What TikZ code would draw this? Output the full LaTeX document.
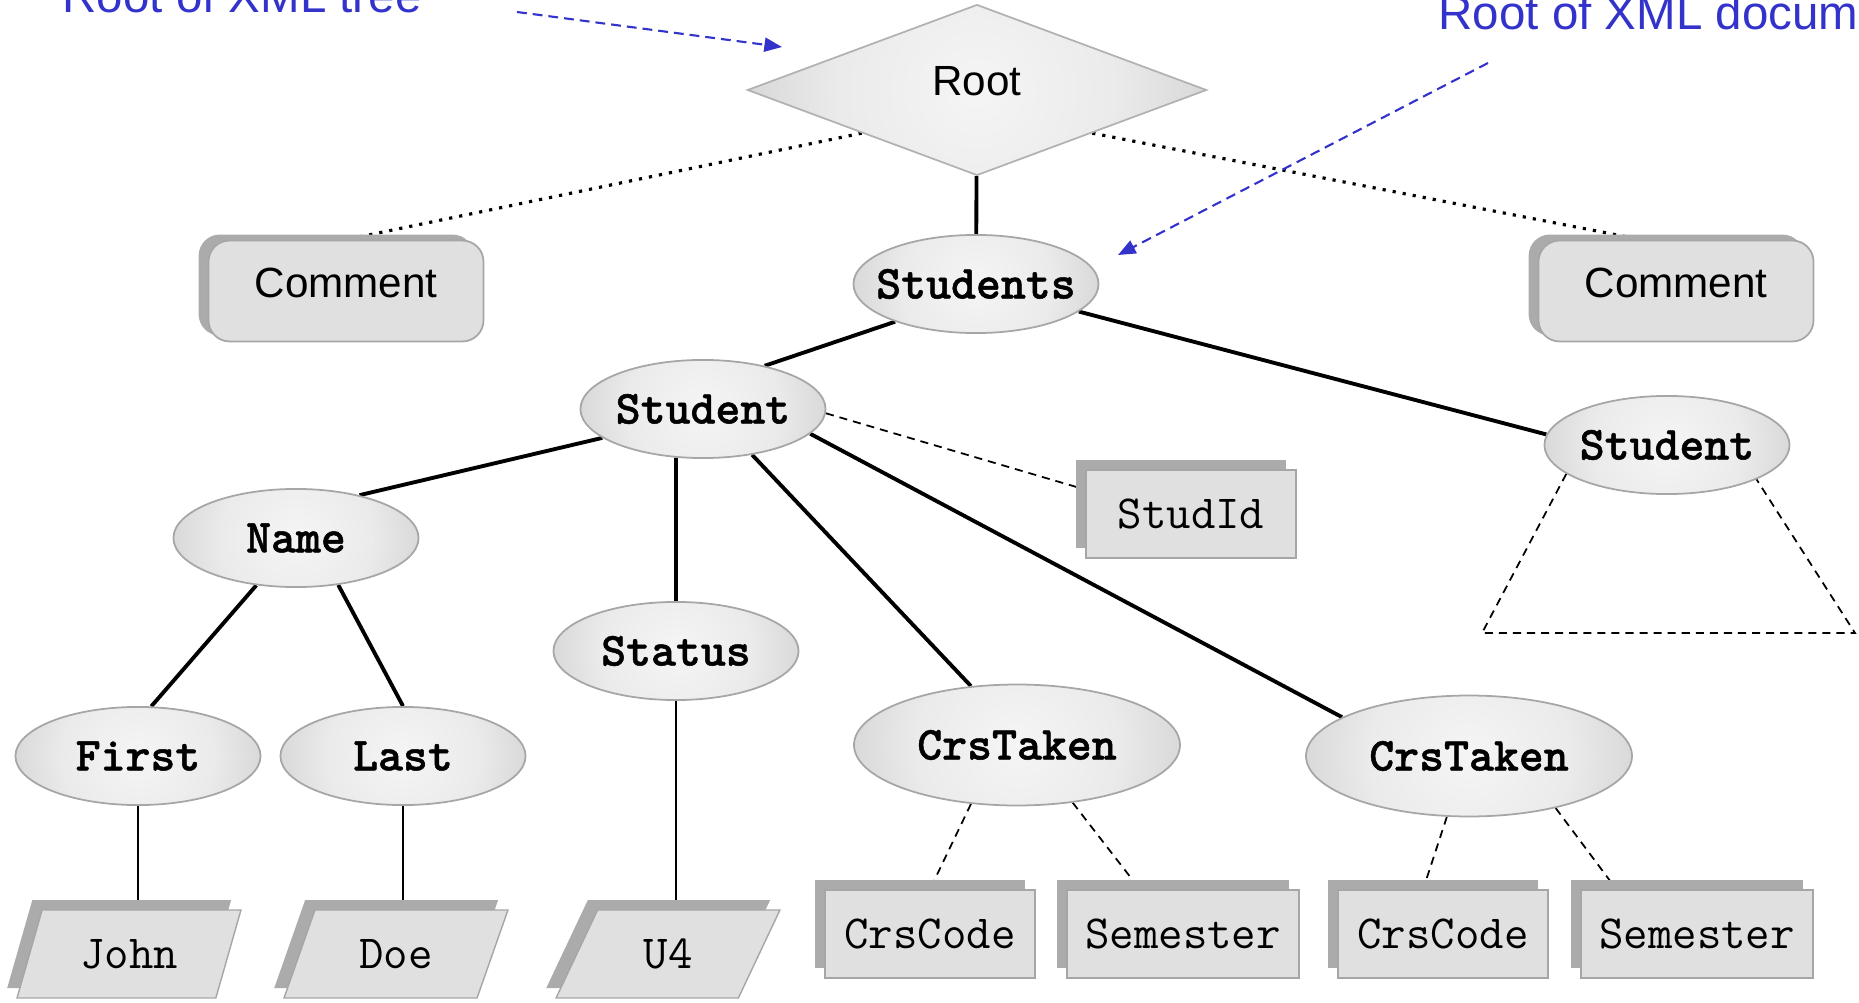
\documentclass[tikz,border=0pt]{standalone}
\usepackage{fontspec}
\newfontfamily\helvfont{Liberation Sans}
\newfontfamily\ttboldfont{lmmonolt10-bold.otf}[FakeBold=1]
\usetikzlibrary{shapes.geometric, arrows.meta, backgrounds, shadows}

\definecolor{noteblue}{RGB}{51,51,204}
\pgfdeclareradialshading{ovalshade}{\pgfpoint{0bp}{0bp}}{%
  color(0bp)=(black!4); color(15bp)=(black!8); color(50bp)=(black!34)}

\tikzset{
  elem/.style={ellipse, draw=black!35, line width=0.5pt, inner sep=0pt, inner xsep=-8pt,
    minimum width=69.7pt, minimum height=27.9pt,
    font=\fontsize{13.5}{16}\selectfont\ttboldfont,
    path picture={\shade[shading=ovalshade] (path picture bounding box.center) circle (36pt);}},
  crselem/.style={elem, minimum width=92.7pt, minimum height=34.4pt,
    path picture={\shade[shading=ovalshade] (path picture bounding box.center) circle (48pt);}},
  boxshadow/.style={
    general shadow={shadow xshift=-2.8pt, shadow yshift=2.8pt, fill=black!33, draw=none}},
  attr/.style={rectangle, draw=black!35, fill=black!12, line width=0.4pt,
    inner sep=0pt, inner xsep=5.2pt, minimum width=59.7pt, minimum height=25pt,
    font=\fontsize{13.5}{16}\selectfont\ttfamily, boxshadow},
  value/.style={trapezium, trapezium left angle=64.5, trapezium right angle=115.5,
    trapezium stretches=true, draw=black!35, fill=black!12, line width=0.4pt,
    inner sep=0pt, minimum width=63.7pt, minimum height=25pt,
    font=\fontsize{13.5}{16}\selectfont\ttfamily, boxshadow},
  note/.style={rectangle, rounded corners=6pt, draw=black!35, fill=black!12,
    line width=0.5pt, minimum width=78.2pt, minimum height=28.7pt, text depth=4.8pt,
    font=\fontsize{12}{14}\selectfont\helvfont,
    general shadow={shadow xshift=-2.8pt, shadow yshift=1.7pt, fill=black!33, draw=none}},
  rootshape/.style={diamond, draw=black!30, line width=0.5pt, inner sep=0pt,
    minimum width=130.6pt, minimum height=48.6pt, text depth=5.4pt,
    font=\fontsize{12}{14}\selectfont\helvfont,
    path picture={\shade[shading=ovalshade] (path picture bounding box.center) circle (66pt);}},
  child/.style={line width=1.1pt},
  leaf/.style={line width=0.45pt},
  attrlink/.style={line width=0.5pt, dash pattern=on 2.3pt off 1.7pt},
  notelink/.style={line width=0.9pt, dotted},
  pointer/.style={noteblue, line width=0.6pt, dash pattern=on 2.8pt off 1.7pt,
    -{Triangle[length=5pt, width=4pt]}},
  notetext/.style={font=\fontsize{13.5}{16}\selectfont\helvfont, text=noteblue, inner sep=0pt}
}

\begin{document}
\begin{tikzpicture}[x=0.01cm, y=-0.01cm]
    \useasboundingbox (0,0) rectangle (1859,1003);
    \clip (0,0) rectangle (1859,1003);

    % Root and comments
    \node[rootshape] (root) at (977,90) {Root};
    \node[note] (cmtL) at (346,291) {Comment};
    \node[note] (cmtR) at (1676,291) {Comment};

    % Element nodes
    \node[elem] (stds) at (976,284) {Students};
    \node[elem] (stA) at (703,409) {Student};
    \node[elem] (stB) at (1667,445) {Student};
    \node[elem] (name) at (296,538) {Name};
    \node[elem] (status) at (676,651) {Status};
    \node[elem] (first) at (138,756) {First};
    \node[elem] (last) at (403,756) {Last};
    \node[crselem] (crsA) at (1017,745) {CrsTaken};
    \node[crselem] (crsB) at (1469,756) {CrsTaken};

    % Attributes
    \node[attr] (studid) at (1191,514) {StudId};
    \node[attr] (codeA) at (930,934) {CrsCode};
    \node[attr] (semA) at (1183,934) {Semester};
    \node[attr] (codeB) at (1443,934) {CrsCode};
    \node[attr] (semB) at (1697,934) {Semester};

    % Text values
    \node[value] (john) at (129,954) {John};
    \node[value] (doe) at (396,954) {Doe};
    \node[value] (uval) at (668,954) {U4};

    \coordinate (subL) at (1482,633);
    \coordinate (subR) at (1855,633);

    % Edges
    \begin{scope}[on background layer]
        \draw[child] (root) -- (stds);
        \draw[notelink] (root.south west) -- (cmtL.north);
        \draw[notelink] (root.south east) -- (cmtR.124);
        \draw[child] (stds.205) -- (stA.35);
        \draw[child] (stds.345) -- (stB.175);
        \draw[child] (stA.196) -- (name.34);
        \draw[child] (stA.241) -- (status);
        \draw[child] (stA.317) -- (crsA.128);
        \draw[child] (stA.347) -- (crsB.163);
        \draw[attrlink] (stA.358) -- (studid.167);
        \draw[child] (name.230) -- (first.75);
        \draw[child] (name.312) -- (last.north);
        \draw[leaf] (first.south) -- (first.south |- john.north);
        \draw[leaf] (last.south) -- (last.south |- doe.north);
        \draw[leaf] (status.south) -- (status.south |- uval.north);
        \draw[attrlink] (crsA.232) -- (codeA.north);
        \draw[attrlink] (crsA.314) -- (semA.134);
        \draw[attrlink] (crsB.250) -- (codeB.114);
        \draw[attrlink] (crsB.329) -- (semB.151);
        \draw[attrlink] (stB.196) -- (subL) -- (subR) -- (stB.339);
    \end{scope}

    % Annotations
    \node[notetext, anchor=base west] (treelbl) at (62,12) {Root of XML tree};
    \node[notetext, anchor=base west] (doclbl) at (1438,29) {Root of XML document};
    \coordinate (treefrom) at (517,12);
    \coordinate (treeto) at (782,47);
    \coordinate (docfrom) at (1488,63);
    \coordinate (docto) at (1118,255);
    \draw[pointer] (treefrom) -- (treeto);
    \draw[pointer] (docfrom) -- (docto);
\end{tikzpicture}
\end{document}
